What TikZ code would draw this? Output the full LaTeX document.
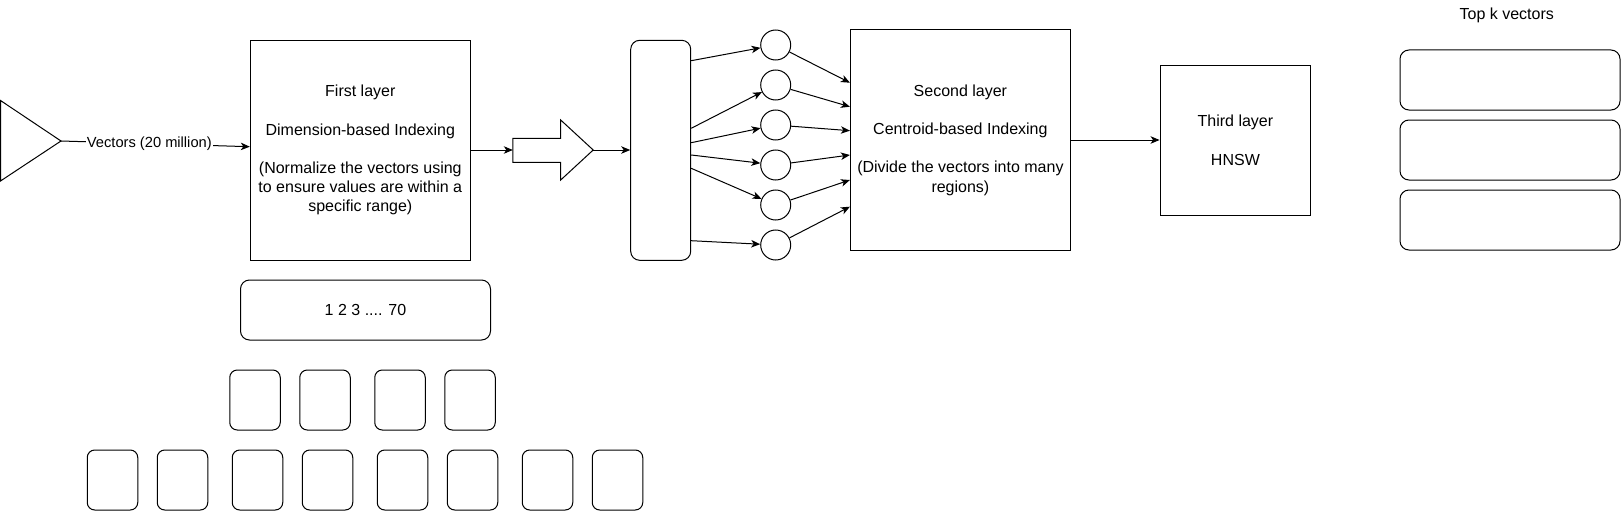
\documentclass[tikz,border=0pt]{standalone}
\usepackage{fontspec}
\setmainfont{Liberation Sans}
\usetikzlibrary{arrows.meta,calc}
\begin{document}
\begin{tikzpicture}[x=1pt,y=-1pt,line width=1pt,
  txt/.style={font=\fontsize{16}{19.2}\selectfont, align=center},
  sq/.style={draw, txt, inner sep=0pt},
  rsq/.style={sq, rounded corners=9pt},
  cell/.style={draw, rounded corners=7.5pt, minimum width=50.5pt, minimum height=60pt, inner sep=0pt},
  circ/.style={draw, circle, minimum size=30pt, inner sep=0pt},
  arr/.style={-{Stealth[length=9pt,width=7.5pt,inset=2.5pt]}},
  elabel/.style={fill=white, inner sep=1pt, font=\fontsize{14.67}{17.6}\selectfont}]
\useasboundingbox (0,0) rectangle (1621,511);

% input triangle
\draw (0.5,100.5) -- (61,141) -- (0.5,181) -- cycle;
\coordinate (tritip) at (61,141);

% first layer
\node[sq, minimum width=220pt, minimum height=220pt] (b1) at (360.3,150.2)
  {First layer\\[19.2pt] Dimension-based Indexing\\[19.2pt] (Normalize the vectors using\\ to ensure values are within a\\ specific range)};

% block arrow
\draw (512.8,138.3) -- (560.7,138.3) -- (560.7,120) -- (593.2,150) -- (560.7,180) -- (560.7,162.3) -- (512.8,162.3) -- cycle;
\coordinate (bain) at (512.8,150);
\coordinate (batip) at (593.2,150);

% tall rounded rect
\node[rsq, minimum width=60pt, minimum height=220pt] (tall) at (660.7,150.3) {};

% circles
\foreach \i/\y in {1/45,2/85,3/125,4/165,5/205,6/245}
  \node[circ] (c\i) at (775.7,\y) {};

% second layer
\node[sq, minimum width=220pt, minimum height=220pt] (b2) at (960.4,140)
  {Second layer\\[19.2pt] Centroid-based Indexing\\[19.2pt] (Divide the vectors into many\\ regions)};

% third layer
\node[sq, minimum width=150.7pt, minimum height=150.7pt] (b3) at (1235.4,140.4)
  {Third layer\\[19.2pt] HNSW};

% top k
\node[txt] (topk) at (1506.7,15) {Top k vectors};
\node[rsq, minimum width=220pt, minimum height=60pt] (k1) at (1510,80) {};
\node[rsq, minimum width=220pt, minimum height=60pt] (k2) at (1510,150) {};
\node[rsq, minimum width=220pt, minimum height=60pt] (k3) at (1510,220) {};

% 1 2 3 .... 70
\node[rsq, minimum width=250pt, minimum height=60pt] (dims) at (365.5,310) {1 2 3 .... 70};

% small cells
\foreach \i/\x in {1/255,2/325,3/400,4/470}
  \node[cell] (u\i) at (\x,400) {};
\foreach \i/\x in {1/112.5,2/182.5,3/257.5,4/327.5,5/402.5,6/472.5,7/547.5,8/617.5}
  \node[cell] (l\i) at (\x,480) {};

% connectors
\draw[arr] (tritip) -- node[elabel, pos=0.468] {Vectors (20 million)} (b1.west |- 0,146.7);
\draw[arr] (b1.east |- bain) -- (bain);
\draw[arr] (batip) -- (tall.west |- batip);

\draw[arr] (tall.east |- 0,60.7) -- (c1);
\draw[arr] (tall.east |- 0,128.3) -- (c2);
\draw[arr] (tall.east |- 0,142.7) -- (c3);
\draw[arr] (tall.east |- 0,155) -- (c4);
\draw[arr] (tall.east |- 0,168.3) -- (c5);
\draw[arr] (tall.east |- 0,240.7) -- (c6);

\draw[arr] (c1) -- (b2.west |- 0,82.7);
\draw[arr] (c2) -- (b2.west |- 0,106.7);
\draw[arr] (c3) -- (b2.west |- 0,130.7);
\draw[arr] (c4) -- (b2.west |- 0,155);
\draw[arr] (c5) -- (b2.west |- 0,180);
\draw[arr] (c6) -- (b2.west |- 0,206.7);

\draw[arr] (b2.east |- 0,140) -- (b3.west |- 0,140);
\end{tikzpicture}
\end{document}
